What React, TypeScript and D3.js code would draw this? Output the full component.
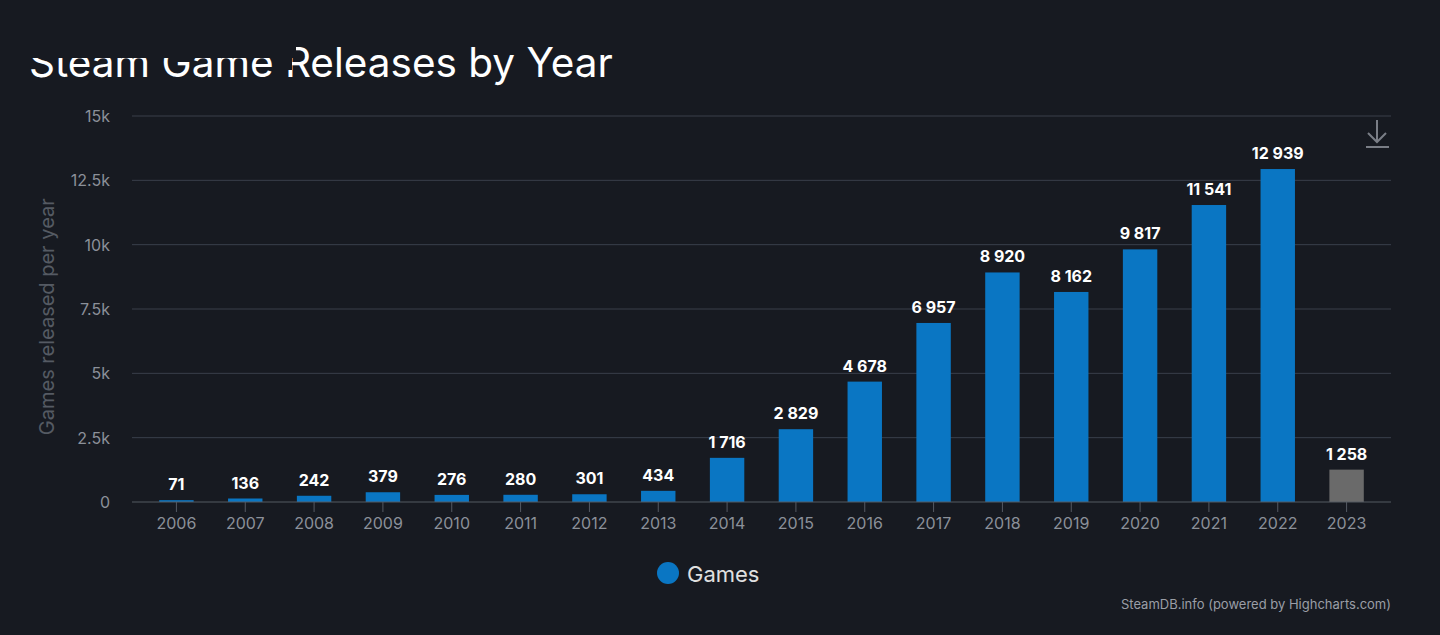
import React from "react";
import * as d3 from "d3";

const years = ["2006", "2007", "2008", "2009", "2010", "2011", "2012", "2013", "2014", "2015", "2016", "2017", "2018", "2019", "2020", "2021", "2022", "2023"];
const games = [71, 136, 242, 379, 276, 280, 301, 434, 1716, 2829, 4678, 6957, 8920, 8162, 9817, 11541, 12939, 1258];
const partialYear = "2023";
const yTicks = [0, 2500, 5000, 7500, 10000, 12500, 15000];
const yTickLabels = ["0", "2.5k", "5k", "7.5k", "10k", "12.5k", "15k"];

const W = 1440;
const H = 635;
const bg = "#171a21";
const blue = "#0a76c3";
const gray = "#6a6a6a";
const font = "Inter, 'Noto Sans', sans-serif";

const fmt = (v: number) => d3.format(",")(v).replace(/,/g, " ");

const App: React.FC = () => {
  const x = d3.scaleBand<string>().domain(years).range([142, 1381]).paddingInner(0.5).paddingOuter(0.25);
  const y = d3.scaleLinear().domain([0, 15000]).range([502, 116]);

  return (
    <svg width={W} height={H} style={{ display: "block", position: "absolute", left: 0, top: 0, background: bg }}>
      <rect x={0} y={0} width={W} height={H} fill={bg} />
      {/* title */}
      <text x={29} y={77} fill="#ffffff" fontFamily={font} fontSize={40.5}>
        Steam Game Releases by Year
      </text>
      {/* the top of the title is hidden in the original */}
      <rect x={0} y={30} width={296} height={28} fill={bg} />
      <rect x={284} y={56} width={8} height={14} fill={bg} />

      {/* grid */}
      {yTicks.map((t, i) => (
        <g key={t}>
          {i > 0 && <line x1={132} x2={1391} y1={y(t)} y2={y(t)} stroke="#3a3f4b" strokeWidth={1} />}
          <text x={110} y={y(t) + 6} textAnchor="end" fill="#8b9099" fontFamily={font} fontSize={16}>
            {yTickLabels[i]}
          </text>
        </g>
      ))}
      <text
        transform={`translate(54,${y(7200)}) rotate(-90)`}
        textAnchor="middle"
        fill="#555a63"
        fontFamily={font}
        fontSize={20}
      >
        Games released per year
      </text>

      {/* bars */}
      {years.map((yr, i) => {
        const v = games[i];
        const bx = x(yr) as number;
        const bw = x.bandwidth();
        return (
          <g key={yr}>
            <rect x={bx} y={y(v)} width={bw} height={y(0) - y(v)} fill={yr === partialYear ? gray : blue} />
            <text
              x={bx + bw / 2}
              y={y(v) - 10}
              textAnchor="middle"
              fill="#ffffff"
              fontFamily={font}
              fontWeight={700}
              fontSize={16}
            >
              {fmt(v)}
            </text>
            <line x1={bx + bw / 2} x2={bx + bw / 2} y1={y(0)} y2={y(0) + 10} stroke="#555a63" />
            <text x={bx + bw / 2} y={y(0) + 27} textAnchor="middle" fill="#8b9099" fontFamily={font} fontSize={16}>
              {yr}
            </text>
          </g>
        );
      })}
      <line x1={132} x2={1391} y1={y(0)} y2={y(0)} stroke="#555a63" strokeWidth={1} />

      {/* download icon */}
      <g stroke="#7a7e86" strokeWidth={2} fill="none">
        <line x1={1377} x2={1377} y1={120} y2={142} />
        <polyline points="1368,133 1377,142 1386,133" />
        <line x1={1366} x2={1389} y1={147} y2={147} />
      </g>

      {/* legend */}
      <circle cx={668} cy={573} r={11} fill={blue} />
      <text x={687} y={582} fill="#e0e0e0" fontFamily={font} fontSize={22}>
        Games
      </text>

      {/* credits */}
      <text x={1391} y={609} textAnchor="end" fill="#9a9ea6" fontFamily={font} fontSize={13}>
        SteamDB.info (powered by Highcharts.com)
      </text>
    </svg>
  );
};

export default App;
